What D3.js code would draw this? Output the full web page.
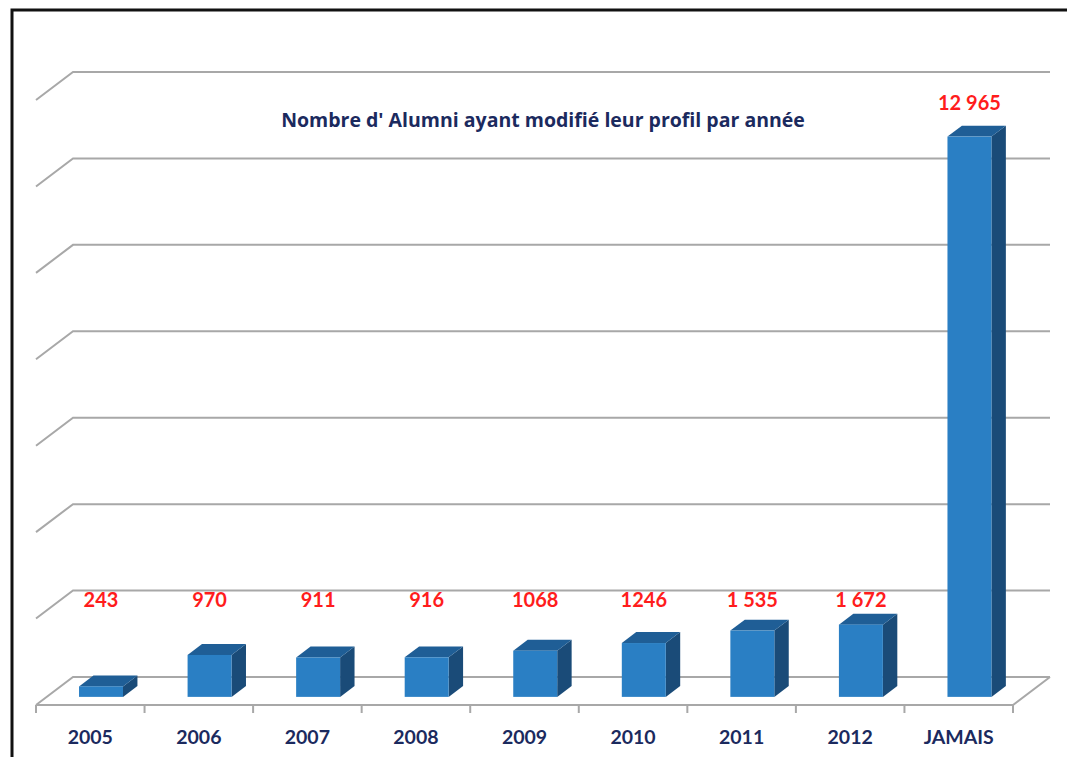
<!DOCTYPE html>
<html>
<head>
<meta charset="utf-8">
<script src="https://cdn.jsdelivr.net/npm/d3@7"></script>
<style>
    html, body { margin: 0; padding: 0; background: #fff; }
    #chart { width: 1067px; height: 757px; }
</style>
</head>
<body>
<div id="chart"></div>
<script>
const categories = ["2005", "2006", "2007", "2008", "2009", "2010", "2011", "2012", "JAMAIS"];
const values = [243, 970, 911, 916, 1068, 1246, 1535, 1672, 12965];
const valueLabels = ["243", "970", "911", "916", "1068", "1246", "1 535", "1 672", "12 965"];
const yTicks = [0, 2000, 4000, 6000, 8000, 10000, 12000, 14000];
const title = "Nombre d' Alumni ayant modifié leur profil par année";

const width = 1067;
const height = 757;
const fontFamily = "Lato, 'Open Sans', sans-serif";
const navy = "#1b2a5e";
const red = "#ff1c1c";
const gridColor = "#a8a8a8";
const colors = { front: "#2a7fc4", top: "#1f5e96", side: "#1a4b78" };

// front plane of the floor and the depth vector towards the back wall
const plot = { left: 36, right: 1013, floor: 705, top: 100 };
const depth = { x: 37, y: -28 };
const barFront = 0.29;
const barBack = 0.68;

const svg = d3.select("#chart").append("svg")
    .attr("width", width)
    .attr("height", height)
    .style("font-family", fontFamily);

// frame of the slide
svg.append("path")
    .attr("d", `M12,${height + 5} L12,10 L${width + 5},10`)
    .attr("fill", "none")
    .attr("stroke", "#111")
    .attr("stroke-width", 3);

const x = d3.scaleBand()
    .domain(categories)
    .range([plot.left, plot.right])
    .paddingInner(0);

const y = d3.scaleLinear()
    .domain([0, d3.max(yTicks)])
    .range([plot.floor, plot.top]);

const at = (px, py, t) => [px + depth.x * t, py + depth.y * t];

// back wall grid and left wall diagonals
const grid = svg.append("g")
    .attr("stroke", gridColor)
    .attr("stroke-width", 2)
    .attr("fill", "none");

grid.selectAll("path.grid")
    .data(yTicks)
    .enter()
    .append("path")
    .attr("class", "grid")
    .attr("d", d => {
        const [x0, y0] = [plot.left, y(d)];
        const [x1, y1] = at(x0, y0, 1);
        const [x2] = at(plot.right, y0, 1);
        return `M${x0},${y0} L${x1},${y1} L${x2},${y1}`;
    });

// floor outline
const [fbx, fby] = at(plot.right, plot.floor, 1);
grid.append("path")
    .attr("d", `M${plot.left},${plot.floor} L${plot.right},${plot.floor} L${fbx},${fby}`);

// category axis ticks
const tickPos = categories.map(c => x(c)).concat([plot.right]);
grid.selectAll("line.tick")
    .data(tickPos)
    .enter()
    .append("line")
    .attr("class", "tick")
    .attr("x1", d => d)
    .attr("x2", d => d)
    .attr("y1", plot.floor)
    .attr("y2", plot.floor + 8);

// 3D bars
const barWidth = x.bandwidth() * 0.405;
const rows = categories.map((c, i) => ({ category: c, value: values[i], label: valueLabels[i] }));

const bars = svg.append("g")
    .selectAll("g.bar")
    .data(rows)
    .enter()
    .append("g")
    .attr("class", "bar");

function barGeom(d) {
    const cx = x(d.category) + x.bandwidth() / 2;
    const [fx0, fyb] = at(cx - barWidth / 2, y(0), barFront);
    const [, fyt] = at(cx, y(d.value), barFront);
    const fx1 = fx0 + barWidth;
    const dx = depth.x * (barBack - barFront);
    const dy = depth.y * (barBack - barFront);
    return { fx0, fx1, fyb, fyt, dx, dy };
}

bars.append("path")
    .attr("fill", colors.side)
    .attr("d", d => {
        const g = barGeom(d);
        return `M${g.fx1},${g.fyt} L${g.fx1 + g.dx},${g.fyt + g.dy} L${g.fx1 + g.dx},${g.fyb + g.dy} L${g.fx1},${g.fyb} Z`;
    });

bars.append("path")
    .attr("fill", colors.top)
    .attr("d", d => {
        const g = barGeom(d);
        return `M${g.fx0},${g.fyt} L${g.fx0 + g.dx},${g.fyt + g.dy} L${g.fx1 + g.dx},${g.fyt + g.dy} L${g.fx1},${g.fyt} Z`;
    });

bars.append("rect")
    .attr("fill", colors.front)
    .attr("x", d => barGeom(d).fx0)
    .attr("y", d => barGeom(d).fyt)
    .attr("width", barWidth)
    .attr("height", d => barGeom(d).fyb - barGeom(d).fyt);

// value labels: just under the 2000 line on the back wall, or above the bar when it is taller
const labelY = d => {
    const g = barGeom(d);
    return d.value > 2000 ? g.fyt + g.dy - 16 : y(2000) + depth.y + 16;
};

bars.append("text")
    .attr("x", d => { const g = barGeom(d); return (g.fx0 + g.fx1) / 2; })
    .attr("y", labelY)
    .attr("text-anchor", "middle")
    .style("font-size", "20px")
    .style("font-weight", "bold")
    .style("fill", red)
    .text(d => d.label);

// category labels
svg.append("g")
    .selectAll("text")
    .data(categories)
    .enter()
    .append("text")
    .attr("x", d => x(d) + x.bandwidth() / 2)
    .attr("y", 744)
    .attr("text-anchor", "middle")
    .style("font-size", "19.5px")
    .style("font-weight", "bold")
    .style("fill", navy)
    .text(d => d);

svg.append("text")
    .attr("x", 543)
    .attr("y", 127)
    .attr("text-anchor", "middle")
    .style("font-family", "'Open Sans', Lato, sans-serif")
    .style("font-size", "19.5px")
    .style("font-weight", "bold")
    .style("fill", navy)
    .text(title);
</script>
</body>
</html>
